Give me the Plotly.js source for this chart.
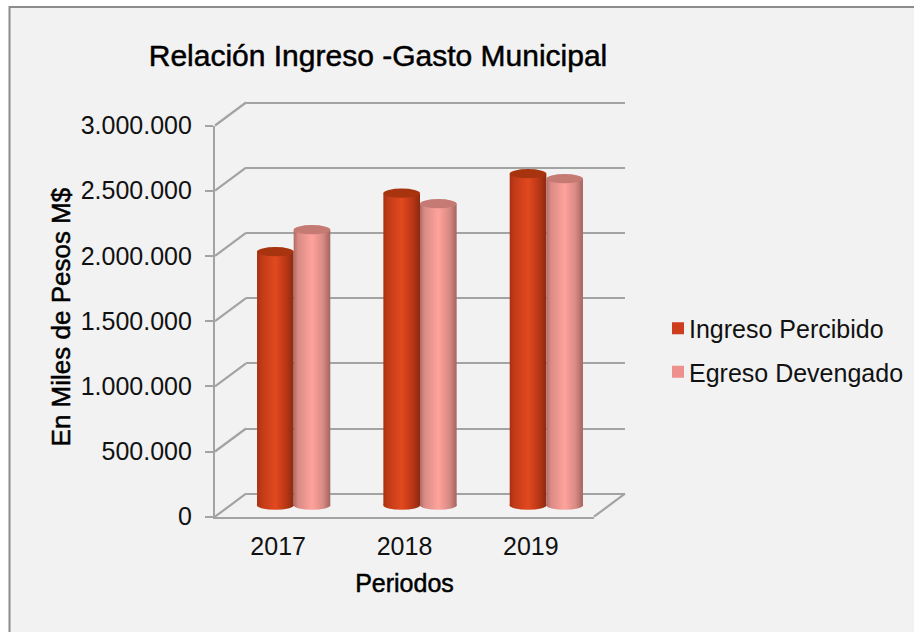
<!DOCTYPE html>
<html><head><meta charset="utf-8">
<script src="https://cdn.plot.ly/plotly-3.0.1.min.js"></script>
<style>html,body{margin:0;padding:0;background:#fff}</style>
</head><body><div id="chart" style="width:914px;height:632px"></div>
<script>
const periods = ['2017','2018','2019'];
const ingresoPercibido = [1944000, 2393000, 2542000];
const egresoDevengado = [2113000, 2312000, 2504000];
const yTicks = [0,500000,1000000,1500000,2000000,2500000,3000000];
const yMax = 3000000;

const W=914,H=632;
const front={l:215,r:594,t:125.5,b:516.7};
const depth={dx:31,dy:23};
const px=x=>x/W, py=y=>1-y/H;
const bargap=0.42, barFrac=(1-bargap)/2;
const gray='#a3a3a3', font='"Liberation Sans", Arial, sans-serif';
const unitsPerPx=yMax/(front.b-front.t), padPx=12, gridPad=3;
function dom(f,k){return {x:[px(f.l+depth.dx*k),px(f.r+depth.dx*k)],y:[py(f.b-depth.dy*k),py(f.t-depth.dy*k)]};}
const dF=dom(front,0), dB=dom(front,1), dM=dom(front,0.5);
dM.y[0]=py(front.b-depth.dy*0.5+padPx);
dB.y=[py(front.b-depth.dy+gridPad),py(front.t-depth.dy-gridPad)];
const valY=v=>front.b-(front.b-front.t)*v/yMax;

const shapes=[{type:'rect',xref:'paper',yref:'paper',x0:px(9.5),x1:1.02,y0:-0.02,y1:py(7),
  fillcolor:'#f2f2f2',line:{color:'#8c8c8c',width:2},layer:'below'}];
yTicks.forEach(v=>shapes.push({type:'line',xref:'paper',yref:'paper',layer:'below',
  x0:px(front.l),y0:py(valY(v)),x1:px(front.l+depth.dx),y1:py(valY(v)-depth.dy),line:{color:gray,width:2.2}}));
shapes.push({type:'line',xref:'paper',yref:'paper',layer:'below',
  x0:px(front.r),y0:py(front.b),x1:px(front.r+depth.dx),y1:py(front.b-depth.dy),line:{color:gray,width:2.2}});

const bottomIdx=[[],[]];
function ellipse(i,s,v,fill,layer){
  const x0=i-barFrac+s*barFrac;
  shapes.push({type:'circle',xref:'x3',yref:'y3',ysizemode:'pixel',yanchor:v,y0:-4.6,y1:4.6,
    x0:x0,x1:x0+barFrac,fillcolor:fill,line:{width:0},layer:layer});
}
[ingresoPercibido,egresoDevengado].forEach((vals,s)=>{
  vals.forEach((v,i)=>{
    bottomIdx[s].push(shapes.length);
    ellipse(i,s,0,s?'#f09a94':'#cc3e1c','below');
  });
});
[ingresoPercibido,egresoDevengado].forEach((vals,s)=>{
  vals.forEach((v,i)=>ellipse(i,s,v,s?'#c67a74':'#a8340f','above'));
});

function helper(xa,ya){return {type:'scatter',mode:'markers',x:periods,y:[0,0,0],xaxis:xa,yaxis:ya,marker:{opacity:0,size:1},showlegend:false,hoverinfo:'skip'};}
const data=[
 helper('x','y'),helper('x2','y2'),
 {type:'bar',name:'Ingreso Percibido',legendgroup:'a',x:periods,y:ingresoPercibido,xaxis:'x3',yaxis:'y3',marker:{color:'#cc3e1c',line:{width:0}},hoverinfo:'x+y+name'},
 {type:'bar',name:'Egreso Devengado',legendgroup:'b',x:periods,y:egresoDevengado,xaxis:'x3',yaxis:'y3',marker:{color:'#ee918c',line:{width:0}},hoverinfo:'x+y+name'}
];
const catAxis={type:'category',categoryorder:'array',categoryarray:periods,range:[-0.5,2.5],fixedrange:true};
const layout={
 width:W,height:H,margin:{l:0,r:0,t:0,b:0,pad:0},paper_bgcolor:'#ffffff',plot_bgcolor:'rgba(0,0,0,0)',
 separators:',.',barmode:'group',bargap:bargap,bargroupgap:0,
 font:{family:font,color:'#111',size:25},
 title:{text:'Relación Ingreso -Gasto Municipal',x:378/W,xref:'paper',xanchor:'center',y:py(55),yref:'paper',yanchor:'middle',font:{family:font,size:30,color:'#000'}},
 xaxis:Object.assign({},catAxis,{domain:dF.x,anchor:'y',tickmode:'array',tickvals:periods,ticktext:periods,showgrid:false,zeroline:false,showline:true,linecolor:gray,linewidth:2.2,ticks:'',ticklabelstandoff:6,
   tickfont:{family:font,size:25,color:'#111'},title:{text:'Periodos',standoff:16,font:{family:font,size:25,color:'#000'}}}),
 yaxis:{domain:dF.y,anchor:'x',range:[0,yMax],tickmode:'array',tickvals:yTicks,tickformat:',d',showgrid:false,zeroline:false,showline:true,linecolor:gray,linewidth:2.2,ticks:'outside',ticklen:8,tickwidth:2,tickcolor:gray,ticklabelstandoff:8,fixedrange:true,
   tickfont:{family:font,size:25,color:'#111'},title:{text:'En Miles de Pesos M$',standoff:3,font:{family:font,size:26,color:'#000'}}},
 xaxis2:Object.assign({},catAxis,{domain:dB.x,anchor:'y2',visible:false}),
 yaxis2:{domain:dB.y,anchor:'x2',range:[-gridPad*unitsPerPx,yMax+gridPad*unitsPerPx],tickmode:'array',tickvals:yTicks,showgrid:true,gridcolor:gray,gridwidth:2.2,zeroline:false,showticklabels:false,showline:false,ticks:'',fixedrange:true},
 xaxis3:Object.assign({},catAxis,{domain:dM.x,anchor:'y3',visible:false}),
 yaxis3:{domain:dM.y,anchor:'x3',range:[-padPx*unitsPerPx,yMax],visible:false,fixedrange:true},
 legend:{x:px(649),xanchor:'left',y:py(350),yanchor:'middle',bgcolor:'rgba(0,0,0,0)',font:{family:font,size:25,color:'#111'},itemclick:false,itemdoubleclick:false,traceorder:'grouped',tracegroupgap:8},
 showlegend:true,shapes:shapes
};
const gradients={
 g0:[[0,'#a83010'],[0.12,'#c03a18'],[0.5,'#e2491f'],[0.8,'#b83614'],[1,'#8a2a10']],
 g1:[[0,'#b06a66'],[0.12,'#d98a84'],[0.5,'#ffa39c'],[0.8,'#d88a84'],[1,'#a5645f']]
};
function restyleDom(){
 const gd=document.getElementById('chart');
 const svg=gd.querySelector('svg.main-svg');
 let defs=svg.querySelector('defs');
 Object.keys(gradients).forEach(id=>{
  if(document.getElementById(id))return;
  const g=document.createElementNS('http://www.w3.org/2000/svg','linearGradient');
  g.setAttribute('id',id);
  gradients[id].forEach(s=>{const st=document.createElementNS('http://www.w3.org/2000/svg','stop');
   st.setAttribute('offset',s[0]);st.setAttribute('stop-color',s[1]);g.appendChild(st);});
  defs.appendChild(g);
 });
 gd.querySelectorAll('.barlayer .trace.bars').forEach((t,s)=>{
  t.querySelectorAll('.point path').forEach(p=>{p.style.fill='url(#g'+s+')';});
 });
 bottomIdx.forEach((arr,s)=>arr.forEach(k=>{
  gd.querySelectorAll('path[data-index="'+k+'"]').forEach(p=>{p.style.fill='url(#g'+s+')';p.style.fillOpacity=1;});
 }));
 gd.querySelectorAll('.gtitle, .xtitle, .ytitle').forEach(t=>{t.style.stroke='#000';t.style.strokeWidth='0.5px';});
 gd.querySelectorAll('.legend .legendpoints').forEach(p=>{
  if(!p.dataset.moved){p.dataset.moved='1';p.setAttribute('transform','translate(9,0) '+(p.getAttribute('transform')||''));}
 });
 const yt=gd.querySelector('.ytitle');
 if(yt&&!yt.dataset.moved){yt.dataset.moved='1';yt.setAttribute('transform','translate(0,-4) '+(yt.getAttribute('transform')||''));}
}
const gd=document.getElementById('chart');
Plotly.newPlot(gd,data,layout,{displayModeBar:false,responsive:false}).then(()=>{
 restyleDom();
 gd.on('plotly_afterplot',restyleDom);
});
</script></body></html>
